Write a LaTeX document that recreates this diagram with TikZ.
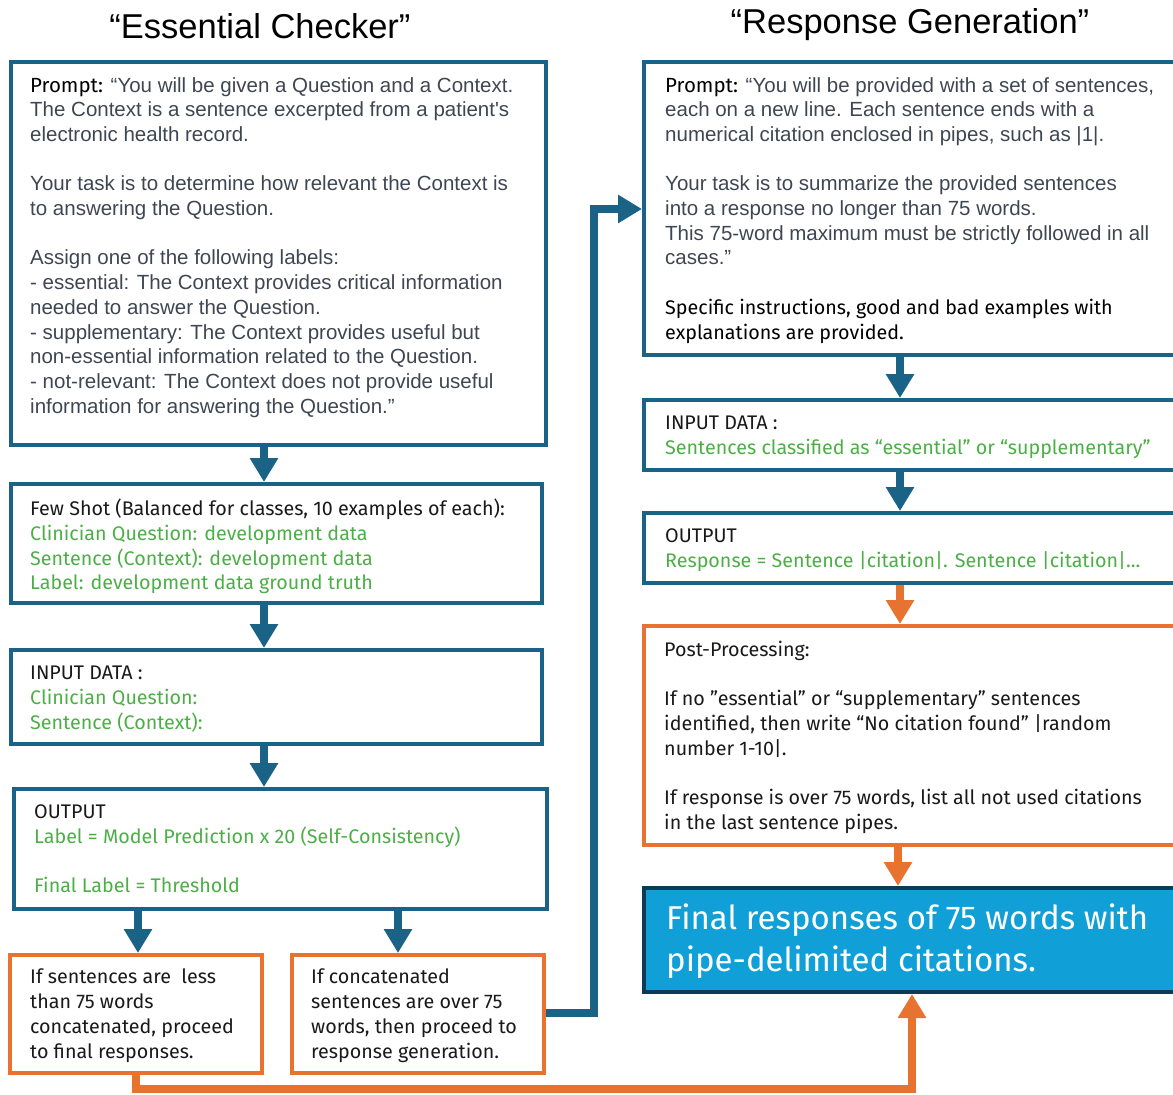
\documentclass[tikz,border=0pt]{standalone}
\usepackage{fontspec}
\setmainfont{Liberation Sans}
\newfontfamily\apt{Fira Sans}
\usetikzlibrary{arrows.meta}
\definecolor{cblue}{HTML}{1A6387}
\definecolor{corange}{HTML}{E87230}
\definecolor{cgreen}{HTML}{4CAF46}
\definecolor{cgray}{HTML}{3E4652}
\definecolor{kfill}{HTML}{109FD6}
\definecolor{kedge}{HTML}{0B3B55}
\newcommand\aptt{\apt\fontsize{19.7}{24.7}\selectfont}
\begin{document}
\begin{tikzpicture}[x=1pt,y=-1pt,
  bbox/.style={draw=cblue, line width=4pt, rectangle, inner sep=0pt},
  obox/.style={draw=corange, line width=4pt, rectangle, inner sep=0pt},
  kbox/.style={draw=kedge, fill=kfill, line width=4pt, rectangle, inner sep=0pt},
  arialtxt/.style={font=\fontsize{20.5}{24.7}\selectfont, text=cgray, align=left, inner sep=0pt, anchor=north west},
  apttxt/.style={font=\aptt, text=black!90, align=left, inner sep=0pt, anchor=north west},
  ttl/.style={font=\fontsize{34.5}{40}\selectfont, text=black, inner sep=0pt},
  barrow/.style={draw=cblue, line width=8pt, -{Triangle[width=27pt,length=24pt]}},
  oarrow/.style={draw=corange, line width=8pt, -{Triangle[width=27pt,length=24pt]}},
]
\useasboundingbox (0,0) rectangle (1173,1095);
\clip (0,0) rectangle (1173,1095);

% titles
\node[ttl] (t1) at (260,26) {“Essential Checker”};
\node[ttl] (t2) at (910,25) {“Response Generation”};

% left column boxes
\node[bbox, minimum width=535.5pt, minimum height=383pt] (A) at (278.25,253.5) {};
\node[bbox, minimum width=531.5pt, minimum height=119pt] (B) at (276.25,543.5) {};
\node[bbox, minimum width=531.5pt, minimum height=94pt] (C) at (276.25,697) {};
\node[bbox, minimum width=533pt, minimum height=120pt] (D) at (280.5,849) {};
\node[obox, minimum width=252pt, minimum height=118pt] (E) at (136,1014) {};
\node[obox, minimum width=252pt, minimum height=118pt] (F) at (418,1014) {};

% right column boxes (cut off at right edge)
\node[bbox, minimum width=560pt, minimum height=293pt] (G) at (924,208.5) {};
\node[bbox, minimum width=560pt, minimum height=70pt] (H) at (924,435) {};
\node[bbox, minimum width=560pt, minimum height=70pt] (I) at (924,548) {};
\node[obox, minimum width=560pt, minimum height=219pt] (J) at (924,735.5) {};
\node[kbox, minimum width=560pt, minimum height=104pt] (K) at (924,940) {};

% texts
\node[arialtxt] (At) at (30,77) {{\apt\color{black}Prompt:} “You will be given a Question and a Context.\\
The Context is a sentence excerpted from a patient\textquotesingle s\\
electronic health record.\\[24.7pt]
Your task is to determine how relevant the Context is\\
to answering the Question.\\[24.7pt]
Assign one of the following labels:\\
- essential: The Context provides critical information\\
needed to answer the Question.\\
- supplementary: The Context provides useful but\\
non-essential information related to the Question.\\
- not-relevant: The Context does not provide useful\\
information for answering the Question.”};

\node[apttxt] (Bt) at (30,499) {Few Shot (Balanced for classes, 10 examples of each):\\
{\color{cgreen}Clinician Question: development data}\\
{\color{cgreen}Sentence (Context): development data}\\
{\color{cgreen}Label: development data ground truth}};

\node[apttxt] (Ct) at (30,666) {INPUT DATA :\\
{\color{cgreen}Clinician Question:}\\
{\color{cgreen}Sentence (Context):}};

\node[apttxt] (Dt) at (34,804.5) {OUTPUT\\
{\color{cgreen}Label = Model Prediction x 20 (Self-Consistency)}\\[24.7pt]
{\color{cgreen}Final Label = Threshold}};

\node[apttxt] (Et) at (30,969) {If sentences are \ less\\
than 75 words\\
concatenated, proceed\\
to final responses.};

\node[apttxt] (Ft) at (311,969) {If concatenated\\
sentences are over 75\\
words, then proceed to\\
response generation.};

\node[arialtxt] (Gt) at (665,77) {{\apt\color{black}Prompt:} “You will be provided with a set of sentences,\\
each on a new line. Each sentence ends with a\\
numerical citation enclosed in pipes, such as |1|.\\[24.7pt]
Your task is to summarize the provided sentences\\
into a response no longer than 75 words.\\
This 75-word maximum must be strictly followed in all\\
cases.”\\[24.7pt]
{\aptt\color{black}Specific instructions, good and bad examples with}\\
{\aptt\color{black}explanations are provided.}};

\node[apttxt] (Ht) at (665,416) {INPUT DATA :\\
{\color{cgreen}Sentences classified as “essential” or “supplementary”}};

\node[apttxt] (It) at (665,528.5) {OUTPUT\\
{\color{cgreen}Response = Sentence |citation|. Sentence |citation|...}};

\node[apttxt] (Jt) at (664,641) {Post-Processing:\\[24.7pt]
If no ”essential” or “supplementary” sentences\\
identified, then write “No citation found” |random\\
number 1-10|.\\[24.7pt]
If response is over 75 words, list all not used citations\\
in the last sentence pipes.};

\node[apttxt, font=\apt\fontsize{33}{42}\selectfont, text=white] (Kt) at (666,904) {Final responses of 75 words with\\
pipe-delimited citations.};

% connector x positions
\coordinate (xl) at (264,0);
\coordinate (xd1) at (138,0);
\coordinate (xd2) at (398,0);
\coordinate (xr) at (900,0);
\coordinate (xr2) at (898,0);
\coordinate (xe) at (136,0);
\coordinate (xk) at (912,0);
\coordinate (yf) at (0,1013);
\coordinate (bend) at (594,209);

\draw[barrow] (A.south -| xl) -- (B.north -| xl);
\draw[barrow] (B.south -| xl) -- (C.north -| xl);
\draw[barrow] (C.south -| xl) -- (D.north -| xl);
\draw[barrow] (D.south -| xd1) -- (E.north -| xd1);
\draw[barrow] (D.south -| xd2) -- (F.north -| xd2);
\draw[barrow] (F.east |- yf) -| (bend) -- (G.west |- bend);
\draw[barrow] (G.south -| xr) -- (H.north -| xr);
\draw[barrow] (H.south -| xr) -- (I.north -| xr);
\draw[oarrow] (I.south -| xr) -- (J.north -| xr);
\draw[oarrow] (J.south -| xr2) -- (K.north -| xr2);
\draw[oarrow] (E.south -| xe) -- ++(0,14) -| (K.south -| xk);
\end{tikzpicture}
\end{document}
